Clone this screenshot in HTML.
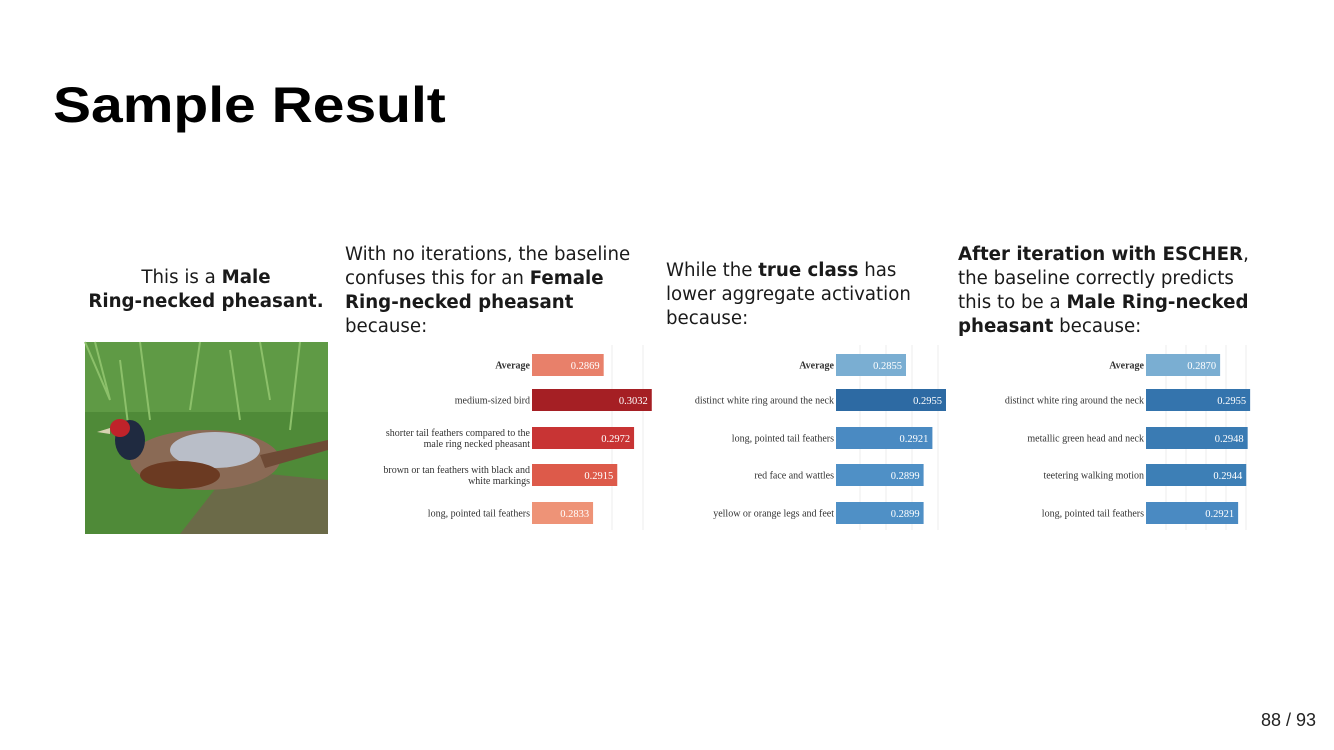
<!DOCTYPE html>
<html><head><meta charset="utf-8">
<style>
html,body{margin:0;padding:0;background:#fff;}
body{width:1334px;height:750px;position:relative;overflow:hidden;font-family:"Liberation Sans",sans-serif;}
#title{position:absolute;left:53px;top:76px;font-size:50px;font-weight:bold;color:#000;margin:0;transform:scaleX(1.14);transform-origin:left top;}
#pagenum{position:absolute;right:18px;top:710px;font-size:18px;color:#222;}
svg{position:absolute;left:0;top:0;}
.h{font-family:"DejaVu Sans",sans-serif;font-size:18.2px;fill:#1a1a1a;}
.lbl{font-family:"Liberation Serif",serif;font-size:10px;fill:#333;}
.val{font-family:"Liberation Serif",serif;font-size:10.5px;fill:#fff;}
</style></head>
<body>
<h1 id="title">Sample Result</h1>
<div id="pagenum">88 / 93</div>
<svg id="main" width="1334" height="750">
  <g>
    <text class="h" x="206" y="283" text-anchor="middle">This is a <tspan font-weight="bold">Male</tspan></text>
    <text class="h" x="206" y="307" text-anchor="middle" font-weight="bold">Ring-necked pheasant.</text>
  </g>
  <g>
    <rect x="85" y="342" width="243" height="192" fill="#4f8a38"/>
    <rect x="85" y="342" width="243" height="70" fill="#5f9a45"/>
    <path d="M85 342 L110 400 L95 342 M140 342 L150 420 M200 342 L190 410 M260 342 L270 400 M300 342 L290 430 M120 360 L130 440 M230 350 L240 420" stroke="#8cc06a" stroke-width="2" fill="none"/>
    <path d="M180 534 L230 470 L328 480 L328 534 Z" fill="#6b6a48"/>
    <ellipse cx="205" cy="460" rx="75" ry="30" fill="#8a6a55"/>
    <ellipse cx="215" cy="450" rx="45" ry="18" fill="#b9bec8"/>
    <path d="M260 455 L328 440 L328 450 L265 468 Z" fill="#6e4a35"/>
    <ellipse cx="130" cy="440" rx="15" ry="20" fill="#1f2a40"/>
    <ellipse cx="120" cy="428" rx="10" ry="9" fill="#c0232a"/>
    <path d="M110 428 L97 432 L110 434 Z" fill="#d8d2b0"/>
    <ellipse cx="180" cy="475" rx="40" ry="14" fill="#6b3a22"/>
  </g>
  <g>
    <text class="h" x="345" y="260">With no iterations, the baseline</text>
    <text class="h" x="345" y="284">confuses this for an <tspan font-weight="bold">Female</tspan></text>
    <text class="h" x="345" y="308" font-weight="bold">Ring-necked pheasant</text>
    <text class="h" x="345" y="332">because:</text>
  </g>
  <g>
    <text class="h" x="666" y="276">While the <tspan font-weight="bold">true class</tspan> has</text>
    <text class="h" x="666" y="300">lower aggregate activation</text>
    <text class="h" x="666" y="324">because:</text>
  </g>
  <g>
    <text class="h" x="958" y="260" font-weight="bold">After iteration with ESCHER<tspan font-weight="normal">,</tspan></text>
    <text class="h" x="958" y="284">the baseline correctly predicts</text>
    <text class="h" x="958" y="308">this to be a <tspan font-weight="bold">Male Ring-necked</tspan></text>
    <text class="h" x="958" y="332"><tspan font-weight="bold">pheasant</tspan> because:</text>
  </g>
  <g id="charts"></g>
</svg>
<script>
const rowCenters = [365, 400, 438, 475, 513];
const p1Labels = [["Average"], ["medium-sized bird"], ["shorter tail feathers compared to the", "male ring necked pheasant"], ["brown or tan feathers with black and", "white markings"], ["long, pointed tail feathers"]];
const p1Values = [0.2869, 0.3032, 0.2972, 0.2915, 0.2833];
const p1Colors = ["#e8806a", "#a51f24", "#c83434", "#dd5a4a", "#ee9377"];
const p2Labels = [["Average"], ["distinct white ring around the neck"], ["long, pointed tail feathers"], ["red face and wattles"], ["yellow or orange legs and feet"]];
const p2Values = [0.2855, 0.2955, 0.2921, 0.2899, 0.2899];
const p2Colors = ["#7aaed2", "#2d6aa3", "#4a8ac2", "#4f90c6", "#4f90c6"];
const p3Labels = [["Average"], ["distinct white ring around the neck"], ["metallic green head and neck"], ["teetering walking motion"], ["long, pointed tail feathers"]];
const p3Values = [0.2870, 0.2955, 0.2948, 0.2944, 0.2921];
const p3Colors = ["#7aaed2", "#3474ad", "#3a7bb3", "#3d7fb6", "#4a8ac2"];

const panels = [
  {x0: 532, min: 0.2626, k: 2950, labels: p1Labels, values: p1Values, colors: p1Colors, grid: [612, 643]},
  {x0: 836, min: 0.2680, k: 4000, labels: p2Labels, values: p2Values, colors: p2Colors, grid: [860, 886, 912, 938]},
  {x0: 1146, min: 0.2660, k: 3530, labels: p3Labels, values: p3Values, colors: p3Colors, grid: [1166, 1186, 1206, 1226, 1246]}
];
const NS = "http://www.w3.org/2000/svg";
const root = document.getElementById("charts");
panels.forEach((p, pi) => {
  const g = document.createElementNS(NS, "g");
  
  
  root.appendChild(g);
  const xs = v => (v - p.min) * p.k;
  p.grid.forEach(gx => {
    const l = document.createElementNS(NS, "line");
    
    
    l.setAttribute("x1", gx); l.setAttribute("x2", gx);
    l.setAttribute("y1", 345); l.setAttribute("y2", 530);
    l.setAttribute("stroke", "#eeeeee"); l.setAttribute("stroke-width", "1");
    g.appendChild(l);
  });
  p.values.forEach((v, i) => {
    const cy = rowCenters[i];
    const w = xs(v);
    const r = document.createElementNS(NS, "rect");
    
    
    r.setAttribute("x", p.x0); r.setAttribute("y", cy - 11);
    r.setAttribute("width", w); r.setAttribute("height", 22);
    r.setAttribute("fill", p.colors[i]);
    g.appendChild(r);
    const t = document.createElementNS(NS, "text");
    
    
    t.setAttribute("class", "val");
    t.setAttribute("x", p.x0 + w - 4); t.setAttribute("y", cy + 4);
    t.setAttribute("text-anchor", "end");
    t.textContent = v.toFixed(4);
    g.appendChild(t);
    const lines = p.labels[i];
    lines.forEach((s, li) => {
      const lt = document.createElementNS(NS, "text");
      
      
      lt.setAttribute("class", "lbl");
      lt.setAttribute("x", p.x0 - 2);
      lt.setAttribute("y", cy + 3.5 + (li - (lines.length - 1) / 2) * 11);
      lt.setAttribute("text-anchor", "end");
      if (i === 0) lt.setAttribute("font-weight", "bold");
      lt.textContent = s;
      g.appendChild(lt);
    });
  });
});
</script>
</body></html>
